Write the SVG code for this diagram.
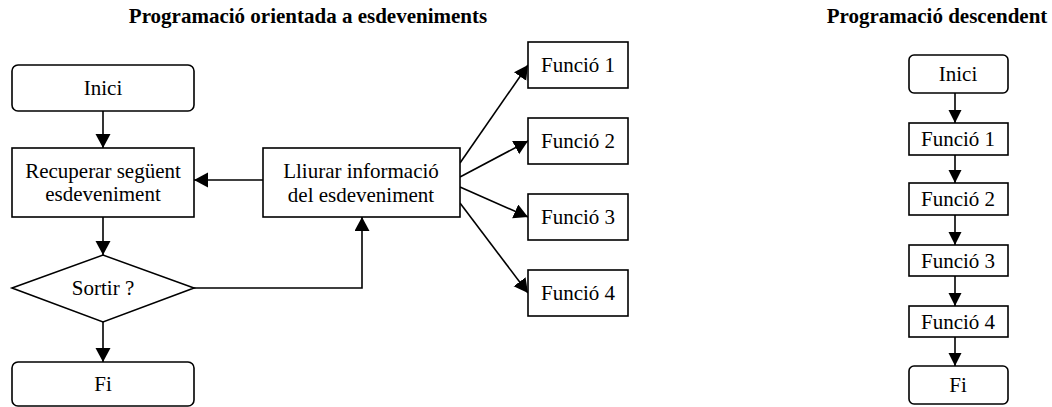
<svg xmlns="http://www.w3.org/2000/svg" width="1052" height="407" viewBox="0 0 1052 407">
<style>
.box{fill:#fff;stroke:#000;stroke-width:1.6}
.t{font-family:"Liberation Serif","Times New Roman",serif;font-size:21px;fill:#000;text-anchor:middle}
.title{font-family:"Liberation Serif","Times New Roman",serif;font-size:21px;font-weight:bold;fill:#000;text-anchor:middle}
.c{fill:none;stroke:#000;stroke-width:1.6}
</style>
<defs>
<marker id="ah" markerUnits="userSpaceOnUse" markerWidth="16" markerHeight="16" refX="14" refY="7.5" orient="auto">
<path d="M0,0 L14,7.5 L0,15 z" fill="#000"/>
</marker>
<marker id="ahs" markerUnits="userSpaceOnUse" markerWidth="15" markerHeight="15" refX="13" refY="6.5" orient="auto">
<path d="M0,0 L13,6.5 L0,13 z" fill="#000"/>
</marker>
</defs>
<rect width="1052" height="407" fill="#fff"/>
<text class="title" x="308" y="23">Programació orientada a esdeveniments</text>
<text class="title" x="937" y="23">Programació descendent</text>

<g id="connectors">
<line class="c" x1="103" y1="111" x2="103" y2="148" marker-end="url(#ah)"/>
<line class="c" x1="103" y1="217" x2="103" y2="255" marker-end="url(#ah)"/>
<line class="c" x1="103" y1="322" x2="103" y2="362" marker-end="url(#ah)"/>
<line class="c" x1="263" y1="180" x2="194" y2="180" marker-end="url(#ah)"/>
<path class="c" d="M194,288 H362 V217" marker-end="url(#ah)"/>
<line class="c" x1="460" y1="163" x2="528" y2="65" marker-end="url(#ah)"/>
<line class="c" x1="460" y1="177" x2="528" y2="141" marker-end="url(#ah)"/>
<line class="c" x1="460" y1="187" x2="528" y2="217" marker-end="url(#ah)"/>
<line class="c" x1="460" y1="203" x2="528" y2="293" marker-end="url(#ah)"/>
<line class="c" x1="955" y1="93" x2="955" y2="123" marker-end="url(#ahs)"/>
<line class="c" x1="955" y1="155" x2="955" y2="183" marker-end="url(#ahs)"/>
<line class="c" x1="955" y1="215" x2="955" y2="245" marker-end="url(#ahs)"/>
<line class="c" x1="955" y1="276" x2="955" y2="306" marker-end="url(#ahs)"/>
<line class="c" x1="955" y1="337" x2="955" y2="366" marker-end="url(#ahs)"/>
</g>

<g id="inici"><rect class="box" x="12" y="65" width="182" height="46" rx="6"/><text class="t" x="103" y="95">Inici</text></g>
<g id="recuperar"><rect class="box" x="12" y="148" width="182" height="69"/><text class="t" x="103" y="178">Recuperar següent</text><text class="t" x="103" y="201">esdeveniment</text></g>
<g id="sortir"><polygon class="box" points="12,288 103,255 194,288 103,322"/><text class="t" x="103" y="295">Sortir ?</text></g>
<g id="fi"><rect class="box" x="12" y="362" width="182" height="44" rx="6"/><text class="t" x="103" y="391">Fi</text></g>
<g id="lliurar"><rect class="box" x="263" y="148" width="197" height="69"/><text class="t" x="361" y="178">Lliurar informació</text><text class="t" x="361" y="202">del esdeveniment</text></g>
<g id="funcio1"><rect class="box" x="528" y="42" width="100" height="46"/><text class="t" x="578" y="72">Funció 1</text></g>
<g id="funcio2"><rect class="box" x="528" y="118" width="100" height="46"/><text class="t" x="578" y="148">Funció 2</text></g>
<g id="funcio3"><rect class="box" x="528" y="194" width="100" height="46"/><text class="t" x="578" y="224">Funció 3</text></g>
<g id="funcio4"><rect class="box" x="528" y="270" width="100" height="46"/><text class="t" x="578" y="300">Funció 4</text></g>

<g id="d-inici"><rect class="box" x="909" y="55" width="99" height="38" rx="5"/><text class="t" x="958" y="81">Inici</text></g>
<g id="d-funcio1"><rect class="box" x="909" y="123" width="99" height="32"/><text class="t" x="958" y="146">Funció 1</text></g>
<g id="d-funcio2"><rect class="box" x="909" y="183" width="99" height="32"/><text class="t" x="958" y="206">Funció 2</text></g>
<g id="d-funcio3"><rect class="box" x="909" y="245" width="99" height="31"/><text class="t" x="958" y="268">Funció 3</text></g>
<g id="d-funcio4"><rect class="box" x="909" y="306" width="99" height="31"/><text class="t" x="958" y="329">Funció 4</text></g>
<g id="d-fi"><rect class="box" x="909" y="366" width="99" height="38" rx="5"/><text class="t" x="958" y="392">Fi</text></g>
</svg>
